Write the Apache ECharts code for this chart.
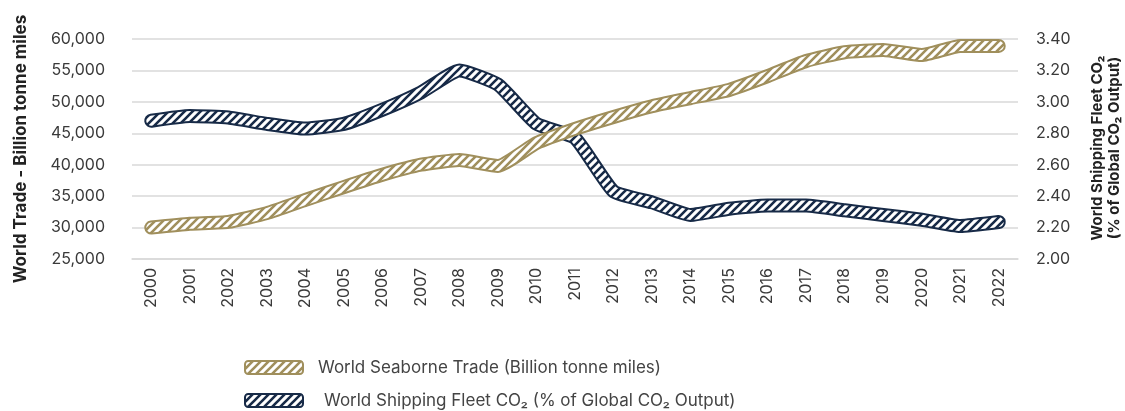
<!DOCTYPE html>
<html>
<head>
<meta charset="utf-8">
<script src="https://cdn.jsdelivr.net/npm/echarts@6/dist/echarts.min.js"></script>
<style>
html, body { margin: 0; padding: 0; background: #fff; }
#main { width: 1125px; height: 411px; }
</style>
</head>
<body>
<div id="main"></div>
<script>
var years = ['2000','2001','2002','2003','2004','2005','2006','2007','2008','2009','2010','2011',
             '2012','2013','2014','2015','2016','2017','2018','2019','2020','2021','2022'];
var trade = [30000, 30600, 30900, 32300, 34400, 36450, 38400, 40000, 40750, 39800, 43450, 45700,
             47600, 49300, 50600, 51900, 54100, 56500, 57900, 58250, 57450, 58900, 58900];
var co2 = [2.88, 2.91, 2.90, 2.86, 2.83, 2.86, 2.95, 3.06, 3.20, 3.11, 2.86, 2.77,
           2.43, 2.36, 2.28, 2.32, 2.34, 2.34, 2.31, 2.28, 2.25, 2.21, 2.235];

var gold = '#a08f5c';
var navy = '#172a47';
var font = 'Inter';

// diagonal stripes on white
function hatch(color) {
    var c = document.createElement('canvas');
    c.width = 8; c.height = 8;
    var ctx = c.getContext('2d');
    ctx.fillStyle = '#fff';
    ctx.fillRect(0, 0, 8, 8);
    ctx.strokeStyle = color;
    ctx.lineWidth = 2.6;
    ctx.beginPath();
    ctx.moveTo(-2, 10); ctx.lineTo(10, -2);
    ctx.moveTo(-2, 2); ctx.lineTo(2, -2);
    ctx.moveTo(6, 10); ctx.lineTo(10, 6);
    ctx.stroke();
    return {image: c, repeat: 'repeat'};
}
var goldHatch = hatch(gold);
var navyHatch = hatch(navy);

var tradeName = 'World Seaborne Trade (Billion tonne miles)';
var co2Name = 'World Shipping Fleet CO₂ (% of Global CO₂ Output)';

function legendRow(name, top, fill, border, pad) {
    return {
        left: 239,
        top: top,
        itemWidth: 58,
        itemHeight: 13,
        textStyle: {fontSize: 17, color: '#444', padding: [0, 0, 0, pad]},
        data: [{name: name, icon: 'roundRect',
                itemStyle: {color: fill, borderColor: border, borderWidth: 2}}]
    };
}

var myChart = echarts.init(document.getElementById('main'));
var option = {
    animation: false,
    textStyle: {fontFamily: font},
    grid: {left: 132, right: 107, top: 39, bottom: 152},
    legend: [
        legendRow(tradeName, 354, goldHatch, gold, 10),
        legendRow(co2Name, 387, navyHatch, navy, 16)
    ],
    // right axis title, placed by hand (axis name gets pushed inward)
    graphic: [{
        type: 'text',
        x: 1106,
        y: 148,
        rotation: Math.PI / 2,
        style: {
            text: 'World Shipping Fleet CO₂\n(% of Global CO₂ Output)',
            font: 'bold 15px Inter',
            fill: '#222',
            align: 'center',
            verticalAlign: 'middle',
            lineHeight: 17
        }
    }],
    xAxis: {
        type: 'category',
        data: years,
        axisLine: {lineStyle: {color: '#d9d9d9', width: 1.5}},
        axisTick: {show: false},
        axisLabel: {rotate: 90, fontSize: 16, color: '#3a3a3a', margin: 9}
    },
    yAxis: [
        {
            type: 'value',
            min: 25000, max: 60000, interval: 5000,
            name: 'World Trade - Billion tonne miles',
            nameLocation: 'middle',
            nameRotate: 90,
            nameGap: 103,
            nameTextStyle: {fontSize: 17, fontWeight: 'bold', color: '#222'},
            axisLine: {show: false},
            axisTick: {show: false},
            splitLine: {lineStyle: {color: '#d9d9d9', width: 1.5}},
            axisLabel: {
                fontSize: 16, color: '#3a3a3a', margin: 27,
                formatter: function (v) { return v.toLocaleString('en-US'); }
            }
        },
        {
            type: 'value',
            position: 'right',
            min: 2, max: 3.4, interval: 0.2,
            axisLine: {show: false},
            axisTick: {show: false},
            splitLine: {show: false},
            axisLabel: {
                fontSize: 16, color: '#3a3a3a', margin: 18,
                formatter: function (v) { return v.toFixed(2); }
            }
        }
    ],
    series: [
        {
            name: 'co2-outline', type: 'line', yAxisIndex: 1, data: co2,
            smooth: 0.15, showSymbol: false, silent: true,
            lineStyle: {color: navy, width: 14, cap: 'round', join: 'round'}
        },
        {
            name: co2Name, type: 'line', yAxisIndex: 1, data: co2,
            smooth: 0.15, showSymbol: false, color: navy,
            lineStyle: {color: navyHatch, width: 10, cap: 'round', join: 'round'}
        },
        {
            name: 'trade-outline', type: 'line', yAxisIndex: 0, data: trade,
            smooth: 0.15, showSymbol: false, silent: true,
            lineStyle: {color: gold, width: 14, cap: 'round', join: 'round'}
        },
        {
            name: tradeName, type: 'line', yAxisIndex: 0, data: trade,
            smooth: 0.15, showSymbol: false, color: gold,
            lineStyle: {color: goldHatch, width: 10, cap: 'round', join: 'round'}
        }
    ]
};
myChart.setOption(option);
</script>
</body>
</html>
